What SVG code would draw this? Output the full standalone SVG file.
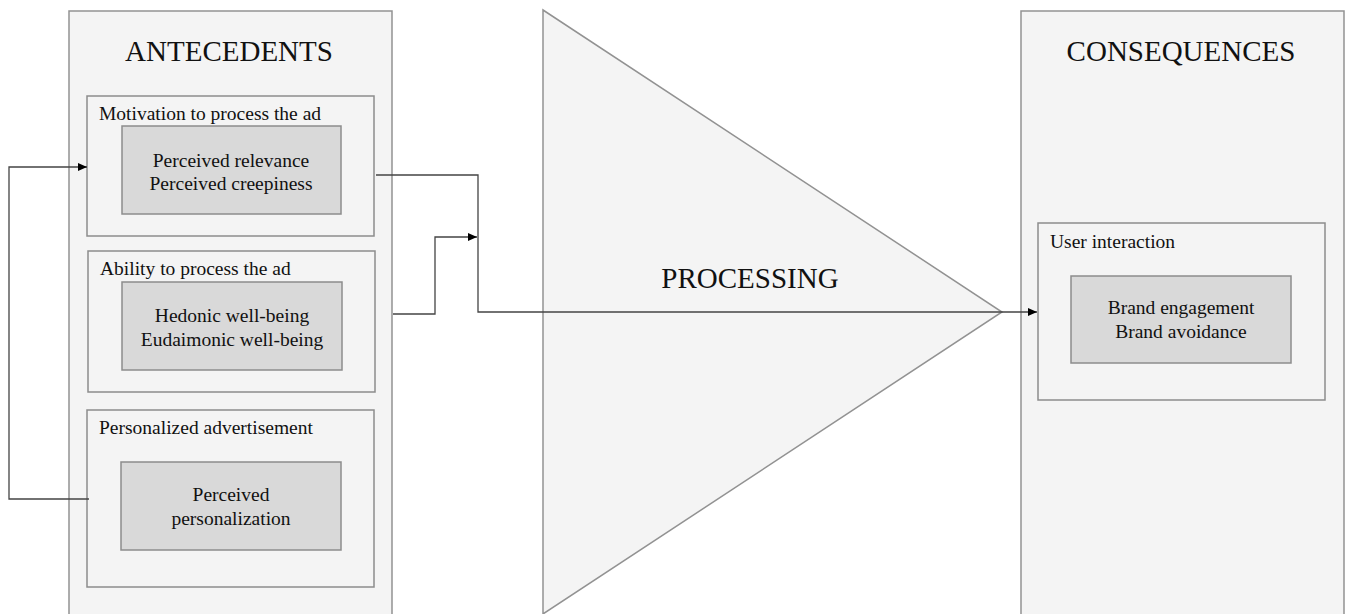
<svg xmlns="http://www.w3.org/2000/svg" width="1347" height="614" viewBox="0 0 1347 614">
<style>
.outer{fill:#f4f4f4;stroke:#929292;stroke-width:1.5}
.box{fill:#f4f4f4;stroke:#8c8c8c;stroke-width:1.5}
.inner{fill:#d9d9d9;stroke:#8c8c8c;stroke-width:1.5}
.title{font-family:"Liberation Serif",serif;font-size:29px;fill:#111}
.lbl{font-family:"Liberation Serif",serif;font-size:19.5px;fill:#111}
.c{text-anchor:middle}
.conn{fill:none;stroke:#444;stroke-width:1.3}
</style>
<defs>
<marker id="arr" markerWidth="10" markerHeight="10" refX="9" refY="5" orient="auto" markerUnits="userSpaceOnUse">
<path d="M0,1 L9,5 L0,9 Z" fill="#000"/>
</marker>
</defs>
<rect width="1347" height="614" fill="#fff"/>
<g id="antecedents">
<rect class="outer" x="69" y="11" width="323" height="610"/>
<text class="title c" x="229" y="61">ANTECEDENTS</text>
</g>
<g id="motivation">
<rect class="box" x="87" y="96" width="287" height="140"/>
<text class="lbl" x="99" y="120">Motivation to process the ad</text>
<rect class="inner" x="122" y="126" width="219" height="88"/>
<text class="lbl c" x="231" y="167">Perceived relevance</text>
<text class="lbl c" x="231" y="190">Perceived creepiness</text>
</g>
<g id="ability">
<rect class="box" x="88" y="251" width="287" height="141"/>
<text class="lbl" x="100" y="275">Ability to process the ad</text>
<rect class="inner" x="122" y="282" width="220" height="88"/>
<text class="lbl c" x="232" y="322">Hedonic well-being</text>
<text class="lbl c" x="232" y="346">Eudaimonic well-being</text>
</g>
<g id="personalized">
<rect class="box" x="87" y="410" width="287" height="177"/>
<text class="lbl" x="99" y="434">Personalized advertisement</text>
<rect class="inner" x="121" y="462" width="220" height="88"/>
<text class="lbl c" x="231" y="501">Perceived</text>
<text class="lbl c" x="231" y="525">personalization</text>
</g>
<g id="processing">
<polygon points="543,10 1002,312 543,614" class="outer"/>
<text class="title c" x="750" y="288">PROCESSING</text>
</g>
<g id="consequences">
<rect class="outer" x="1021" y="11" width="323" height="610"/>
<text class="title c" x="1181" y="61">CONSEQUENCES</text>
</g>
<g id="user-interaction">
<rect class="box" x="1038" y="223" width="287" height="177"/>
<text class="lbl" x="1050" y="248">User interaction</text>
<rect class="inner" x="1071" y="276" width="220" height="87"/>
<text class="lbl c" x="1181" y="314">Brand engagement</text>
<text class="lbl c" x="1181" y="338">Brand avoidance</text>
</g>
<g id="connectors">
<polyline class="conn" points="89,499 9,499 9,167 87,167" marker-end="url(#arr)"/>
<polyline class="conn" points="376,175 478,175 478,312 1002,312"/>
<polyline class="conn" points="393,314 435,314 435,237 477,237" marker-end="url(#arr)"/>
<line class="conn" x1="1002" y1="312" x2="1037" y2="312" marker-end="url(#arr)"/>
</g>
</svg>
